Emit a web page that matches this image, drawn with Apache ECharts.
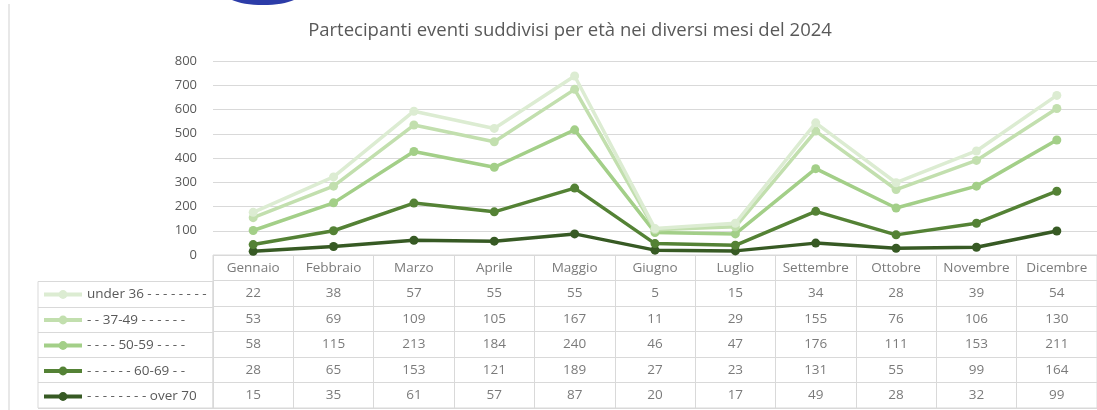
<!DOCTYPE html>
<html>
<head>
<meta charset="utf-8">
<script src="https://cdn.jsdelivr.net/npm/echarts@6/dist/echarts.min.js"></script>
<style>
  html, body { margin: 0; padding: 0; background: #fff; }
  #chart { width: 1097px; height: 410px; }
</style>
</head>
<body>
<div id="chart"></div>
<script>
const months = ['Gennaio', 'Febbraio', 'Marzo', 'Aprile', 'Maggio', 'Giugno', 'Luglio', 'Settembre', 'Ottobre', 'Novembre', 'Dicembre']
const under36 = [22, 38, 57, 55, 55, 5, 15, 34, 28, 39, 54]
const age37_49 = [53, 69, 109, 105, 167, 11, 29, 155, 76, 106, 130]
const age50_59 = [58, 115, 213, 184, 240, 46, 47, 176, 111, 153, 211]
const age60_69 = [28, 65, 153, 121, 189, 27, 23, 131, 55, 99, 164]
const over70 = [15, 35, 61, 57, 87, 20, 17, 49, 28, 32, 99]
const yTicks = [0, 100, 200, 300, 400, 500, 600, 700, 800]

// table rows, top to bottom (legend order)
const rowNames = ['under 36 - - - - - - - -', '- - 37-49 - - - - - -', '- - - - 50-59 - - - -', '- - - - - - 60-69 - -', '- - - - - - - - over 70']
const rowValues = [under36, age37_49, age50_59, age60_69, over70]
const rowColors = ['#dcecd2', '#c2dfae', '#a3cf88', '#548235', '#375a24']

const font = '"Open Sans", sans-serif'
const txt = '#595959'
const grey = '#d9d9d9'

const chart = echarts.init(document.getElementById('chart'))

// stacked lines: bottom series first
const lineSeries = [4, 3, 2, 1, 0].map((i) => ({
  name: rowNames[i],
  type: 'line',
  stack: 'total',
  data: rowValues[i],
  xAxisIndex: 0,
  yAxisIndex: 0,
  symbol: 'circle',
  symbolSize: 9,
  lineStyle: { width: 3.5, color: rowColors[i] },
  itemStyle: { color: rowColors[i] },
  z: 10 - i
}))

// table cells as labels placed on the table grid's category axes
const cellData = []
rowValues.forEach((vals, r) => {
  vals.forEach((v, c) => cellData.push([c, r + 1, v]))
})

const cellLabel = {
  show: true,
  position: 'inside',
  formatter: (p) => p.value[2],
  fontFamily: font,
  fontSize: 13.5,
  color: txt
}

chart.setOption({
  animation: false,
  backgroundColor: '#fff',
  title: {
    text: 'Partecipanti eventi suddivisi per età nei diversi mesi del 2024',
    left: 565,
    textAlign: 'center',
    top: 16,
    textStyle: { fontFamily: font, fontSize: 18.5, fontWeight: 'normal', color: txt }
  },
  legend: {
    orient: 'vertical',
    left: 42,
    top: 287.5,
    height: 140,
    padding: 0,
    itemWidth: 38,
    itemHeight: 11,
    itemGap: 11.5,
    data: rowNames,
    lineStyle: { width: 4 },
    textStyle: { fontFamily: font, fontSize: 13.5, lineHeight: 14, color: txt }
  },
  graphic: [
    { type: 'ellipse', shape: { cx: 263, cy: -6, rx: 37, ry: 11 }, style: { fill: '#2c3ca8' } },
    { type: 'line', shape: { x1: 9, y1: 4, x2: 9, y2: 410 }, style: { stroke: '#e8e8e8', lineWidth: 2 } }
  ],
  grid: [
    { left: 213, right: 0, top: 61, height: 194 },
    { left: 213, right: 0, top: 255, height: 153, show: true, borderColor: grey, borderWidth: 1 },
    { left: 38, width: 175, top: 281.5, height: 126.5, show: true, borderColor: grey, borderWidth: 1 }
  ],
  xAxis: [
    {
      gridIndex: 0,
      type: 'category',
      data: months,
      boundaryGap: true,
      axisLine: { show: false },
      axisTick: { show: false },
      axisLabel: { show: false }
    },
    {
      gridIndex: 1,
      type: 'category',
      data: months,
      position: 'top',
      axisLine: { show: false },
      axisTick: { show: false },
      axisLabel: { show: false },
      splitLine: { show: true, lineStyle: { color: grey } }
    },
    { gridIndex: 2, type: 'value', show: false }
  ],
  yAxis: [
    {
      gridIndex: 0,
      type: 'value',
      min: yTicks[0],
      max: yTicks[yTicks.length - 1],
      interval: 100,
      axisLabel: { fontFamily: font, fontSize: 13, color: txt, margin: 16 },
      splitLine: { lineStyle: { color: grey } }
    },
    {
      gridIndex: 1,
      type: 'category',
      inverse: true,
      data: ['', '1', '2', '3', '4', '5'],
      axisLine: { show: false },
      axisTick: { show: false },
      axisLabel: { show: false },
      splitLine: { show: true, lineStyle: { color: grey } }
    },
    {
      gridIndex: 2,
      type: 'category',
      inverse: true,
      data: ['1', '2', '3', '4', '5'],
      axisLine: { show: false },
      axisTick: { show: false },
      axisLabel: { show: false },
      splitLine: { show: true, lineStyle: { color: grey } }
    }
  ],
  series: [
    ...lineSeries,
    {
      type: 'scatter',
      xAxisIndex: 1,
      yAxisIndex: 1,
      symbolSize: 0,
      silent: true,
      data: months.map((m, c) => [c, 0, m]),
      label: cellLabel
    },
    {
      type: 'scatter',
      xAxisIndex: 1,
      yAxisIndex: 1,
      symbolSize: 0,
      silent: true,
      data: cellData,
      label: cellLabel
    }
  ]
})
</script>
</body>
</html>
